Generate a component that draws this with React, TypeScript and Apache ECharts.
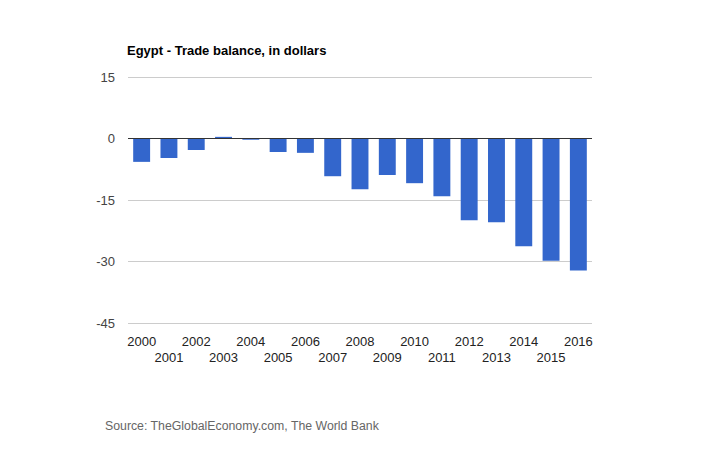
import React, { useEffect, useRef } from "react";
import * as echarts from "echarts";

const years = ["2000","2001","2002","2003","2004","2005","2006","2007","2008","2009","2010","2011","2012","2013","2014","2015","2016"];
const tradeBalance = [-5.7,-4.75,-2.8,0.4,-0.3,-3.3,-3.5,-9.2,-12.35,-8.9,-10.9,-14.1,-19.95,-20.4,-26.3,-29.8,-32.2];
const yTicks = { min: -45, max: 15, interval: 15 };
const titleText = "Egypt - Trade balance, in dollars";
const sourceText = "Source: TheGlobalEconomy.com, The World Bank";

const FONT = "'Liberation Sans', Arial, sans-serif";

export default function App() {
  const ref = useRef<HTMLDivElement>(null);
  useEffect(() => {
    if (!ref.current) return;
    const chart = echarts.init(ref.current, null, { renderer: "svg" });
    chart.setOption({
      animation: false,
      textStyle: { fontFamily: FONT },
      title: {
        text: titleText,
        left: 127,
        top: 44,
        padding: 0,
        textStyle: { fontSize: 13, fontWeight: "bold", color: "#000", fontFamily: FONT },
      },
      graphic: [
        {
          type: "text",
          left: 105,
          top: 420,
          style: { text: sourceText, fontSize: 12.3, fill: "#666", fontFamily: FONT },
        },
      ],
      grid: { left: 128, right: 128, top: 77, bottom: 127, containLabel: false },
      xAxis: {
        type: "category",
        data: years,
        axisLine: { show: false },
        axisTick: { show: false },
        axisLabel: {
          interval: 0,
          margin: 10,
          fontSize: 13,
          color: "#222",
          lineHeight: 16,
          formatter: (v: string, i: number) => (i % 2 ? "\n" + v : v),
        },
      },
      yAxis: {
        type: "value",
        min: yTicks.min,
        max: yTicks.max,
        interval: yTicks.interval,
        axisLine: { show: false },
        axisTick: { show: false },
        axisLabel: { fontSize: 13, color: "#444", margin: 13 },
        splitLine: { lineStyle: { color: "#cccccc", width: 1 } },
      },
      series: [
        {
          type: "bar",
          data: tradeBalance,
          barWidth: "62%",
          itemStyle: { color: "#3366cc" },
          markLine: {
            silent: true,
            symbol: "none",
            label: { show: false },
            lineStyle: { color: "#333", width: 1, type: "solid" },
            data: [{ yAxis: 0 }],
          },
        },
      ],
    });
    return () => chart.dispose();
  }, []);
  return <div ref={ref} style={{ width: 720, height: 450, position: "absolute", left: 0, top: 0 }} />;
}
